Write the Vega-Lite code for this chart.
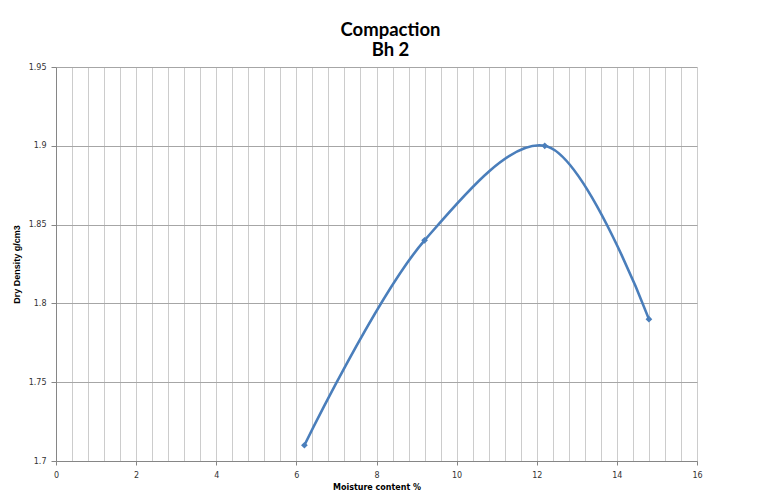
{
  "$schema": "https://vega.github.io/schema/vega-lite/v6.json",
  "width": 641,
  "height": 394,
  "autosize": {"type": "none"},
  "padding": {"left": 56, "top": 67, "right": 69, "bottom": 29},
  "background": "white",
  "title": {"text": ["Compaction", "Bh 2"], "font": "Lato", "fontSize": 18.5, "fontWeight": "bold", "lineHeight": 20, "color": "#000000", "dx": 14, "offset": 4},
  "config": {"view": {"stroke": null}},
  "data": {"values": [
    {"moisture": 6.2, "density": 1.71},
    {"moisture": 9.2, "density": 1.84},
    {"moisture": 12.2, "density": 1.90},
    {"moisture": 14.8, "density": 1.79}
  ]},
  "encoding": {
    "x": {"field": "moisture", "type": "quantitative",
      "scale": {"domain": [0, 16], "nice": false, "zero": false},
      "axis": {
        "values": [0,0.4,0.8,1.2,1.6,2,2.4,2.8,3.2,3.6,4,4.4,4.8,5.2,5.6,6,6.4,6.8,7.2,7.6,8,8.4,8.8,9.2,9.6,10,10.4,10.8,11.2,11.6,12,12.4,12.8,13.2,13.6,14,14.4,14.8,15.2,15.6,16],
        "labelExpr": "abs(datum.value/2 - round(datum.value/2)) < 0.001 ? format(datum.value, 'd') : ''",
        "labelFlush": false, "labelOverlap": false,
        "grid": true, "gridColor": "#cccccc", "gridWidth": 1,
        "tickOpacity": {"condition": {"test": "abs(datum.value/2 - round(datum.value/2)) < 0.001", "value": 1}, "value": 0},
        "tickColor": "#868686", "tickSize": 4,
        "domainColor": "#868686",
        "labelFont": "DejaVu Sans", "labelFontSize": 8, "labelColor": "#333333", "labelPadding": 6,
        "title": "Moisture content %", "titleFont": "DejaVu Sans", "titleFontSize": 8, "titleFontWeight": "bold", "titleColor": "#000000", "titlePadding": 4
      }},
    "y": {"field": "density", "type": "quantitative",
      "scale": {"domain": [1.7, 1.95], "nice": false, "zero": false},
      "axis": {
        "values": [1.7, 1.75, 1.8, 1.85, 1.9, 1.95],
        "format": ".2~f",
        "grid": true, "gridColor": "#a6a6a6",
        "tickColor": "#868686", "tickSize": 5,
        "domainColor": "#868686",
        "labelFont": "DejaVu Sans", "labelFontSize": 8, "labelColor": "#333333", "labelPadding": 5,
        "title": "Dry Density g/cm3", "titleFont": "Liberation Sans", "titleFontSize": 9, "titleFontWeight": "bold", "titleColor": "#000000", "titlePadding": 7
      }}
  },
  "layer": [
    {"mark": {"type": "line", "interpolate": "catmull-rom", "color": "#4a7ebb", "strokeWidth": 2.6}},
    {"mark": {"type": "point", "shape": "diamond", "filled": true, "size": 45, "color": "#4a7ebb", "opacity": 1}}
  ]
}
